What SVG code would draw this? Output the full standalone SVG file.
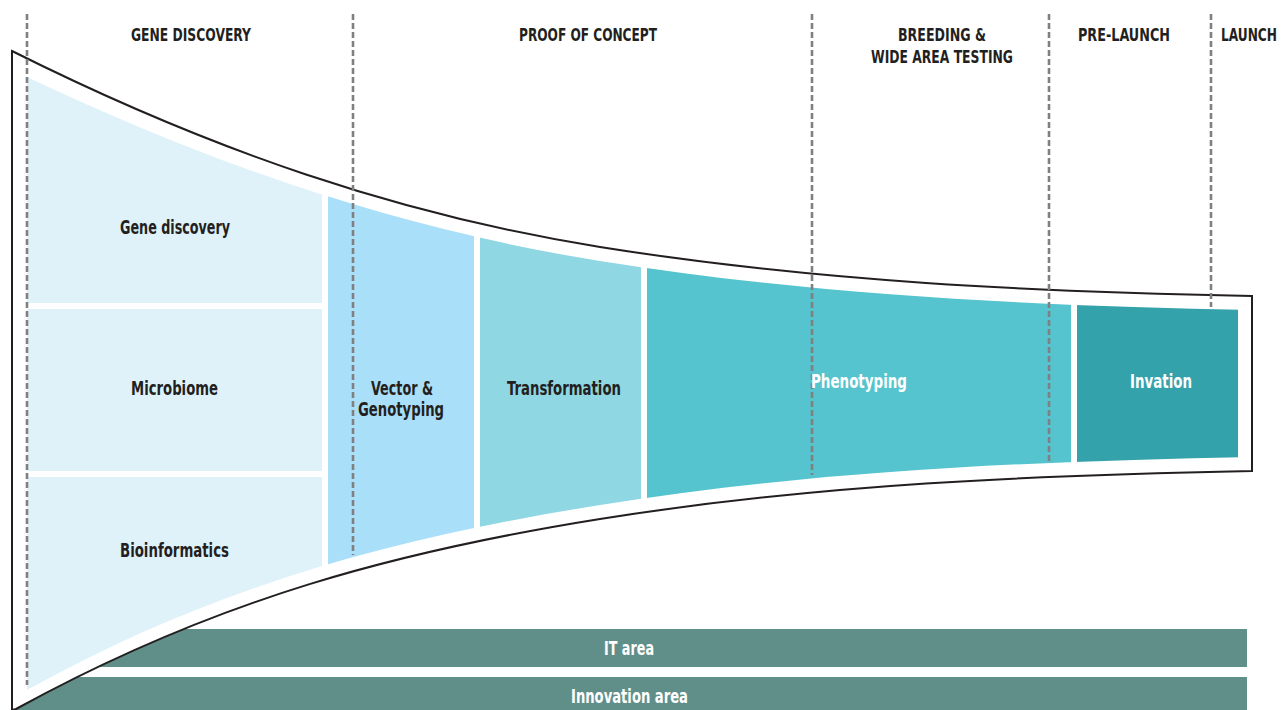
<svg xmlns="http://www.w3.org/2000/svg" width="1282" height="710" viewBox="0 0 1282 710">
  <style>
    .hdr { font-family: "Liberation Sans Narrow", "DejaVu Sans Condensed", "Liberation Sans", sans-serif; font-weight: bold; font-size: 17.5px; fill: #231f20; text-anchor: middle; }
    .lbl { font-family: "Liberation Sans Narrow", "DejaVu Sans Condensed", "Liberation Sans", sans-serif; font-weight: bold; font-size: 19px; fill: #231f20; text-anchor: middle; }
    .lbl.w { fill: #ffffff; }
    .stage { stroke: #808080; stroke-width: 2.6; stroke-dasharray: 6 3; fill: none; }
    .bar { fill: #608f8a; }
  </style>
  <defs>
    <!-- inner area of the funnel, inset from the outline -->
    <clipPath id="inner">
      <path d="M27,77 C215,166 400,229 600,261 C820,296 1032,305.6 1252,310 L1252,457 C1032,461.4 820,470 600,505 C400,537 218,584 27,690 Z"/>
    </clipPath>
  </defs>
  <rect width="1282" height="710" fill="#ffffff"/>

  <!-- support areas running under the funnel -->
  <g id="it-area">
    <rect class="bar" x="12" y="629" width="1235" height="38"/>
  </g>
  <g id="innovation-area">
    <rect class="bar" x="12" y="677" width="1235" height="33"/>
  </g>

  <!-- funnel outline -->
  <g id="funnel">
    <path d="M12,51 C212,151 400,215 600,247 C820,282 1032,291.6 1252,296 L1252,471 C1032,475.4 820,484 600,519 C400,551 218,598 16,709 L12,710 Z" fill="#ffffff" stroke="#231f20" stroke-width="2" stroke-linejoin="miter"/>
  </g>

  <!-- pipeline blocks -->
  <g clip-path="url(#inner)">
    <g id="gene-discovery"><rect x="27" y="40" width="295" height="263" fill="#dff2fa"/></g>
    <g id="microbiome"><rect x="27" y="309" width="295" height="162" fill="#dff2fa"/></g>
    <g id="bioinformatics"><rect x="27" y="477" width="295" height="233" fill="#dff2fa"/></g>
    <g id="vector-genotyping"><rect x="328" y="40" width="146" height="670" fill="#aadff9"/></g>
    <g id="transformation"><rect x="480" y="40" width="161" height="670" fill="#8fd7e3"/></g>
    <g id="phenotyping"><rect x="647" y="40" width="424" height="670" fill="#55c4ce"/></g>
    <g id="invation"><rect x="1077" y="40" width="161" height="670" fill="#33a2ab"/></g>
  </g>

  <!-- stage boundaries -->
  <g id="stage-lines">
    <line class="stage" x1="27" y1="14" x2="27" y2="685"/>
    <line class="stage" x1="353" y1="14" x2="353" y2="555"/>
    <line class="stage" x1="812" y1="14" x2="812" y2="475"/>
    <line class="stage" x1="1049" y1="14" x2="1049" y2="462"/>
    <line class="stage" x1="1211" y1="14" x2="1211" y2="307"/>
  </g>

  <!-- stage headings -->
  <g id="headings">
    <text class="hdr" x="191" y="41" textLength="120" lengthAdjust="spacingAndGlyphs">GENE DISCOVERY</text>
    <text class="hdr" x="588" y="41" textLength="138" lengthAdjust="spacingAndGlyphs">PROOF OF CONCEPT</text>
    <text class="hdr" x="942" y="41" textLength="88" lengthAdjust="spacingAndGlyphs">BREEDING &amp;</text>
    <text class="hdr" x="942" y="63" textLength="142" lengthAdjust="spacingAndGlyphs">WIDE AREA TESTING</text>
    <text class="hdr" x="1124" y="41" textLength="92" lengthAdjust="spacingAndGlyphs">PRE-LAUNCH</text>
    <text class="hdr" x="1249" y="41" textLength="56" lengthAdjust="spacingAndGlyphs">LAUNCH</text>
  </g>

  <!-- block labels -->
  <g id="labels">
    <text class="lbl" x="175" y="234" textLength="110" lengthAdjust="spacingAndGlyphs">Gene discovery</text>
    <text class="lbl" x="174.5" y="395" textLength="87" lengthAdjust="spacingAndGlyphs">Microbiome</text>
    <text class="lbl" x="174.5" y="557" textLength="109" lengthAdjust="spacingAndGlyphs">Bioinformatics</text>
    <text class="lbl" x="402" y="395" textLength="62" lengthAdjust="spacingAndGlyphs">Vector &amp;</text>
    <text class="lbl" x="401" y="416" textLength="86" lengthAdjust="spacingAndGlyphs">Genotyping</text>
    <text class="lbl" x="564" y="395" textLength="114" lengthAdjust="spacingAndGlyphs">Transformation</text>
    <text class="lbl w" x="859" y="388" textLength="96" lengthAdjust="spacingAndGlyphs">Phenotyping</text>
    <text class="lbl w" x="1161" y="388" textLength="62" lengthAdjust="spacingAndGlyphs">Invation</text>
    <text class="lbl w" x="629" y="655" textLength="50" lengthAdjust="spacingAndGlyphs">IT area</text>
    <text class="lbl w" x="629.5" y="703" textLength="117" lengthAdjust="spacingAndGlyphs">Innovation area</text>
  </g>
</svg>
